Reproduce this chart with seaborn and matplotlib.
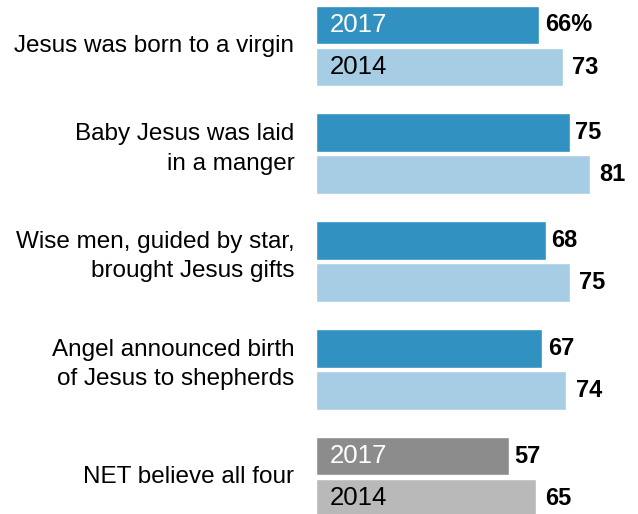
import matplotlib
matplotlib.use("Agg")
import matplotlib.pyplot as plt
import seaborn as sns
import pandas as pd

categories = [
    "Jesus was born to a virgin",
    "Baby Jesus was laid\nin a manger",
    "Wise men, guided by star,\nbrought Jesus gifts",
    "Angel announced birth\nof Jesus to shepherds",
    "NET believe all four",
]
years = ["2017", "2014"]
values_2017 = [66, 75, 68, 67, 57]
values_2014 = [73, 81, 75, 74, 65]

df = pd.DataFrame({
    "category": categories * 2,
    "year": ["2017"] * len(categories) + ["2014"] * len(categories),
    "value": values_2017 + values_2014,
})

sns.set_theme(style="white")
plt.rcParams["font.family"] = ["Liberation Sans", "DejaVu Sans"]
plt.rcParams["text.color"] = "black"

fig = plt.figure(figsize=(6.38, 5.14), dpi=100)
ax = fig.add_axes([316 / 638, 0, 1 - 316 / 638, 1])

blue_dark, blue_light = "#3191c1", "#a6cde3"
gray_dark, gray_light = "#8c8c8c", "#b9b9b9"

sns.barplot(data=df, x="value", y="category", hue="year", order=categories,
            hue_order=years, palette=[blue_dark, blue_light], orient="h",
            width=0.78, gap=0.08, legend=False, ax=ax, saturation=1)

# NET row in gray
ax.containers[0][4].set_facecolor(gray_dark)
ax.containers[1][4].set_facecolor(gray_light)

ax.set_xlim(0, (638 - 316) / 3.38)
ax.set_ylim(4.343, -0.427)
for s in ax.spines.values():
    s.set_visible(False)
ax.set_xticks([])
ax.set_yticks([])
ax.set_xlabel("")
ax.set_ylabel("")

# category labels
for i, cat in enumerate(categories):
    dy = 3.5 if "\n" in cat else 0
    ax.annotate(cat, (0, i), xycoords=("axes fraction", "data"),
                xytext=(-15.5, dy), textcoords="offset points",
                ha="right", va="center", multialignment="right",
                fontsize=17.5, linespacing=1.45, color="black",
                annotation_clip=False)

# value labels
for ci, (vals, off) in enumerate([(values_2017, 4), (values_2014, 7)]):
    for i, bar in enumerate(ax.containers[ci]):
        y = bar.get_y() + bar.get_height() / 2
        x = bar.get_width()
        txt = f"{vals[i]}%" if (ci == 0 and i == 0) else f"{vals[i]}"
        ax.annotate(txt, (x, y), xytext=(off, 0), textcoords="offset points",
                    va="center", ha="left", fontsize=17, fontweight="bold",
                    color="black")

# year labels inside first and last groups
for i in [0, 4]:
    for ci, col in [(0, "white"), (1, "black")]:
        bar = ax.containers[ci][i]
        y = bar.get_y() + bar.get_height() / 2
        ax.annotate(years[ci], (0, y), xytext=(10, 0), textcoords="offset points",
                    va="center", ha="left", fontsize=18.5, color=col)

fig.savefig("out.png", dpi=100)
